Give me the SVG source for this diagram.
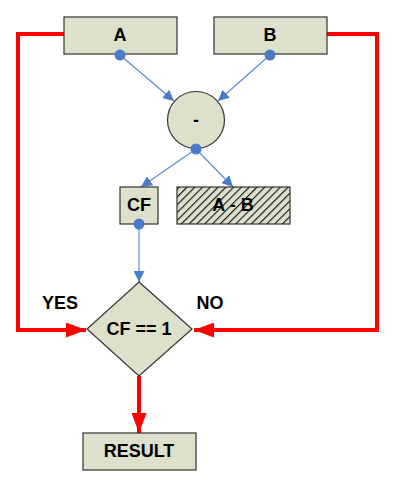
<svg xmlns="http://www.w3.org/2000/svg" width="402" height="484" viewBox="0 0 402 484">
<defs>
<style>
.box{fill:#dde0cb;stroke:#333;stroke-width:1.2}
.lbl{font-family:"Liberation Sans",Arial,sans-serif;font-weight:bold;font-size:18px;fill:#000;text-anchor:middle;dominant-baseline:central}
.blue{stroke:#5b8bd0;stroke-width:1.2;fill:none}
.red{stroke:#ff0000;stroke-width:4;fill:none}
.dot{fill:#4a7bc8}
</style>
<marker id="ba" viewBox="0 0 10 10" refX="10" refY="5" markerWidth="11" markerHeight="11" markerUnits="userSpaceOnUse" orient="auto"><path d="M0,0L10,5L0,10z" fill="#4a7bc8"/></marker>
<marker id="ra" viewBox="0 0 10 10" refX="10" refY="5" markerWidth="20" markerHeight="15" markerUnits="userSpaceOnUse" orient="auto" preserveAspectRatio="none"><path d="M0,0L10,5L0,10z" fill="#ff0000"/></marker>
<pattern id="hatch" width="5.5" height="5.5" patternUnits="userSpaceOnUse" patternTransform="rotate(45)"><rect width="5.5" height="5.5" fill="#dde0cb"/><rect x="0" y="0" width="1.1" height="5.5" fill="#111"/></pattern>
</defs>
<g id="connectors">
<path class="red" d="M64,34H18V330H86" marker-end="url(#ra)"/>
<path class="red" d="M327,34H377V330H194" marker-end="url(#ra)"/>
<path class="red" d="M139,376V433" marker-end="url(#ra)"/>
<line class="blue" x1="120" y1="55" x2="174" y2="101" marker-end="url(#ba)"/>
<line class="blue" x1="270" y1="55" x2="218" y2="101" marker-end="url(#ba)"/>
<line class="blue" x1="196" y1="149" x2="141" y2="187" marker-end="url(#ba)"/>
<line class="blue" x1="196" y1="149" x2="233" y2="187" marker-end="url(#ba)"/>
<line class="blue" x1="139" y1="224" x2="139" y2="282" marker-end="url(#ba)"/>
</g>
<g id="nodeA"><rect class="box" x="64" y="17" width="113" height="37"/><text class="lbl" x="120" y="35">A</text></g>
<g id="nodeB"><rect class="box" x="214" y="17" width="113" height="37"/><text class="lbl" x="270" y="35">B</text></g>
<g id="nodeMinus"><circle class="box" cx="196" cy="120" r="28.5"/><text class="lbl" x="196" y="120" font-size="28">-</text></g>
<g id="nodeCF"><rect class="box" x="120" y="187" width="38" height="37"/><text class="lbl" x="139" y="205">CF</text></g>
<g id="nodeAB"><rect x="177" y="187" width="113" height="37" fill="url(#hatch)" stroke="#333" stroke-width="1.2"/><text class="lbl" x="233" y="205">A - B</text></g>
<g id="nodeDecision"><path class="box" d="M139,282L192,329L139,376L87,329Z"/><text class="lbl" x="139" y="329" font-size="15.5">CF == 1</text></g>
<g id="nodeResult"><rect class="box" x="83" y="433" width="113" height="37"/><text class="lbl" x="139" y="451">RESULT</text></g>
<g id="labels"><text class="lbl" x="60" y="303" font-size="15">YES</text><text class="lbl" x="210" y="303" font-size="15">NO</text></g>
<g id="dots"><circle class="dot" cx="120" cy="55" r="5.5"/><circle class="dot" cx="270" cy="55" r="5.5"/><circle class="dot" cx="196" cy="149" r="5.5"/><circle class="dot" cx="139" cy="224" r="5.5"/></g>
</svg>
